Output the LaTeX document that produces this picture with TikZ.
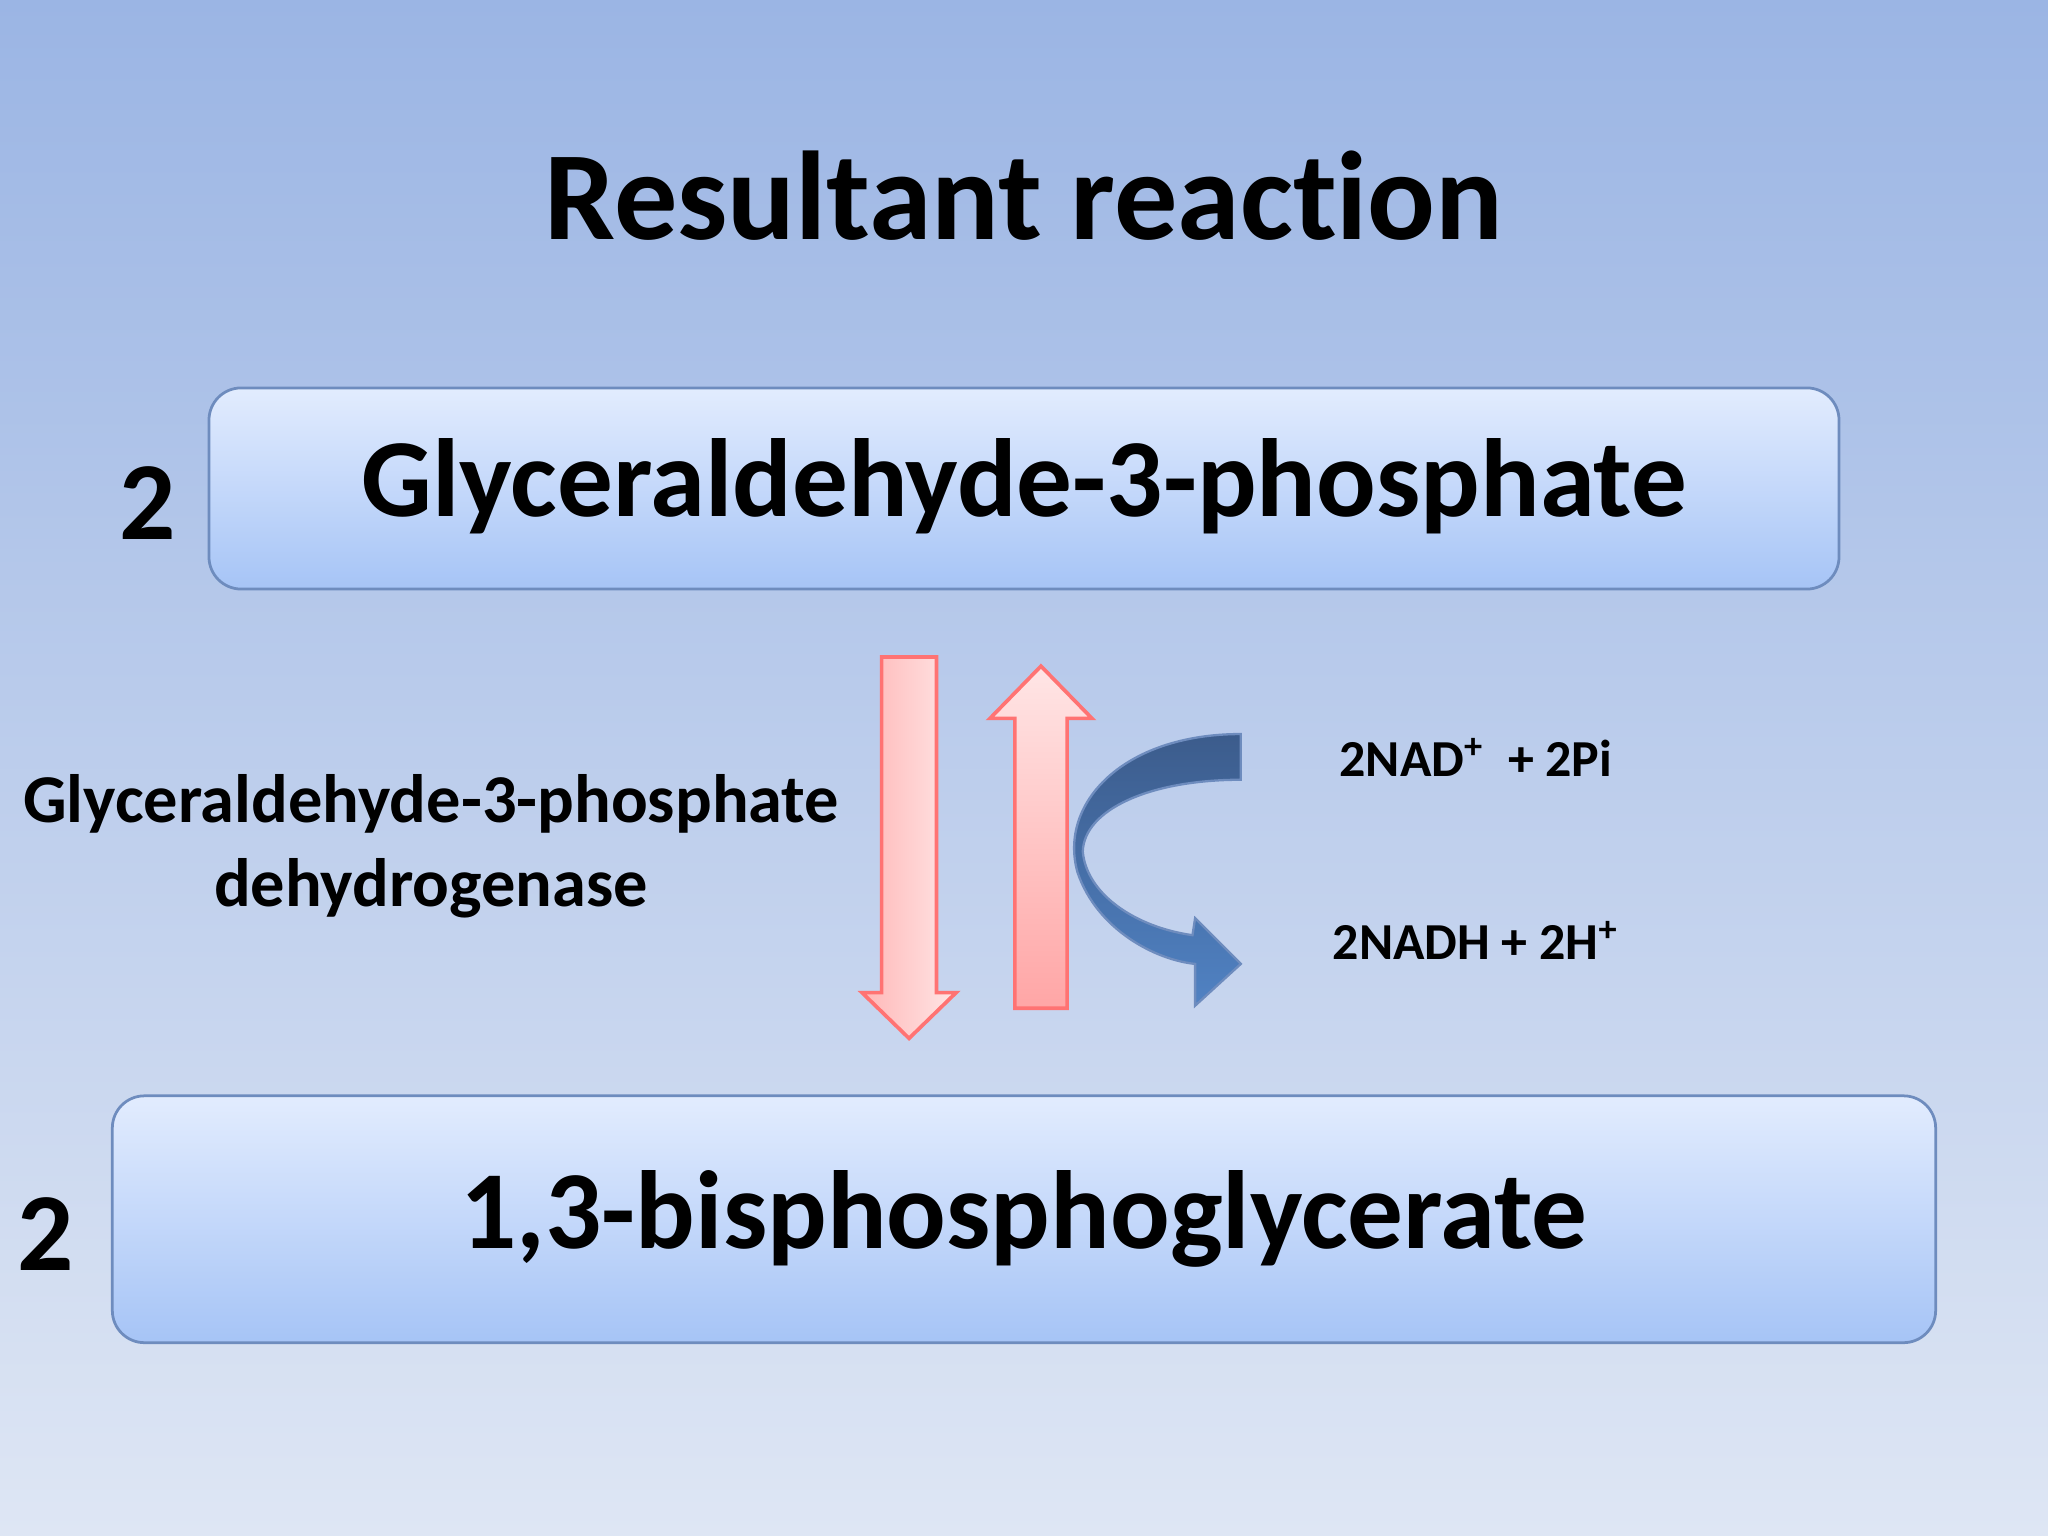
\documentclass[tikz,border=0pt]{standalone}
\usepackage{fontspec}
\setmainfont[Ligatures=NoCommon]{Carlito}
\definecolor{boxtop}{RGB}{226,236,254}
\definecolor{boxbot}{RGB}{166,196,246}
\definecolor{boxline}{RGB}{110,140,190}
\begin{document}
\begin{tikzpicture}[x=0.01cm,y=-0.01cm,
  box/.style={rounded corners=7, draw=boxline, line width=0.6pt, top color=boxtop, bottom color=boxbot},
  pinkarrow/.style={draw=red!55!white, line width=0.8pt, left color=red!28!white, right color=red!10!white},
  lbl/.style={font=\bfseries}]
\shade[top color={rgb,255:red,155;green,181;blue,228}, bottom color={rgb,255:red,222;green,230;blue,244}] (0,0) rectangle (1568,1176);
\useasboundingbox (0,0) rectangle (1568,1176);
\node[lbl, font=\bfseries\fontsize{27.5}{32}\selectfont] (title) at (784,150) {Resultant reaction};
\draw[box] (160,297) rectangle (1408,451);
\node[lbl, font=\bfseries\fontsize{24.2}{29}\selectfont] (g3p) at (784,372) {Glyceraldehyde-3-phosphate};
\node[lbl, font=\bfseries\fontsize{24.2}{29}\selectfont] (n1) at (113,385) {2};
\draw[box] (86,839) rectangle (1482,1028);
\node[lbl, font=\bfseries\fontsize{24.2}{29}\selectfont] (bpg) at (784,933) {1,3-bisphosphoglycerate};
\node[lbl, font=\bfseries\fontsize{24.2}{29}\selectfont] (n2) at (35,945) {2};
\node[lbl, font=\bfseries\fontsize{14.9}{18.3}\selectfont, align=center] (enz) at (330,648) {Glyceraldehyde-3-phosphate\\dehydrogenase};
\draw[pinkarrow] (675,503) -- (717,503) -- (717,760) -- (732,760) -- (696,795) -- (660,760) -- (675,760) -- cycle;
\draw[pinkarrow, top color=red!10!white, bottom color=red!35!white] (777,772) -- (817,772) -- (817,550) -- (836,550) -- (797,510) -- (758,550) -- (777,550) -- cycle;
\draw[draw=boxline, line width=0.5pt, top color={rgb,255:red,60;green,92;blue,140}, bottom color={rgb,255:red,80;green,130;blue,195}]
 (950,562) .. controls (860,562) and (810,615) .. (825,668) .. controls (840,712) and (885,735) .. (915,738)
 -- (915,770) -- (950,738) -- (915,703) -- (913,716)
 .. controls (870,710) and (832,685) .. (829,652) .. controls (830,620) and (880,597) .. (950,597) -- cycle;
\node[lbl, font=\bfseries\fontsize{11.3}{14}\selectfont] (nad) at (1130,580) {2NAD\textsuperscript{+}\ \ + 2Pi};
\node[lbl, font=\bfseries\fontsize{11.3}{14}\selectfont] (nadh) at (1130,720) {2NADH + 2H\textsuperscript{+}};
\end{tikzpicture}
\end{document}
